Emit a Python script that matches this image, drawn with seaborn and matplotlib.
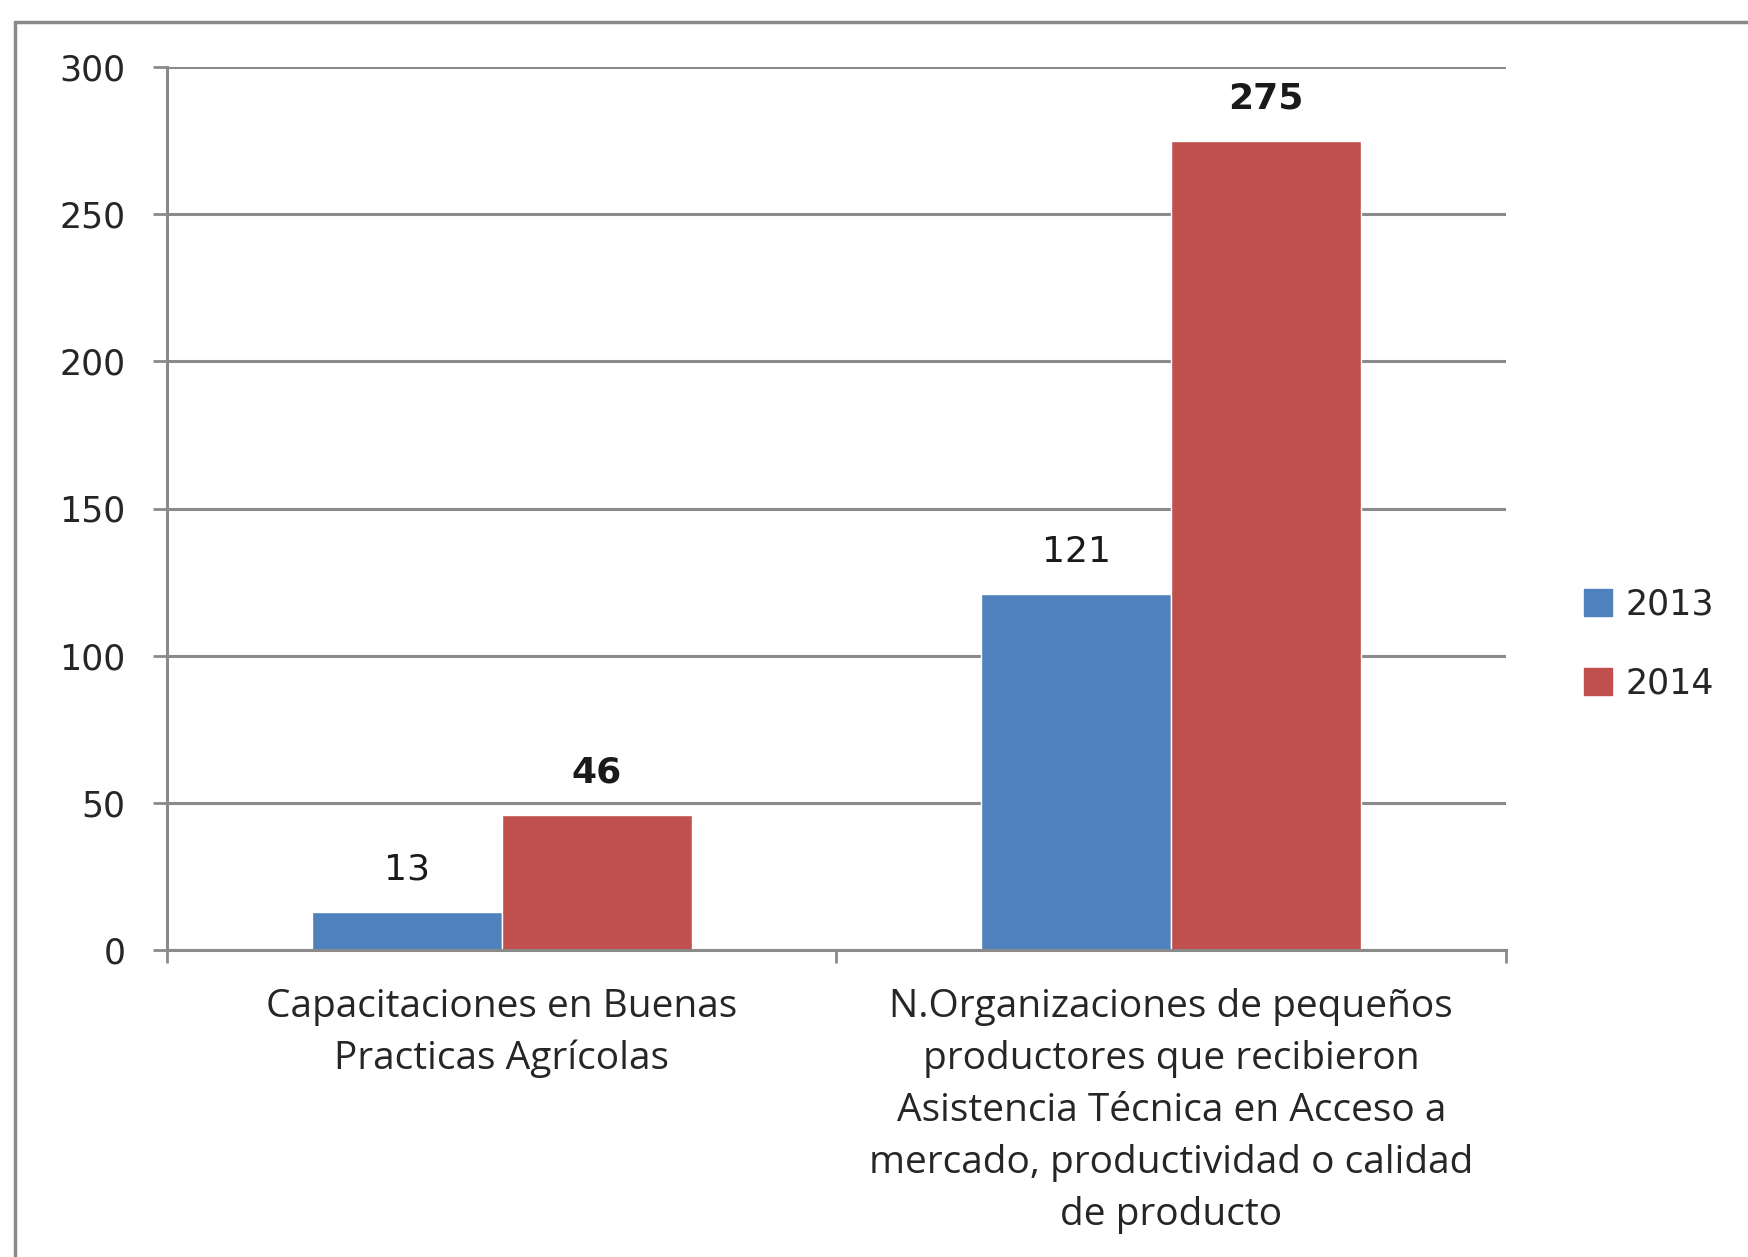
import matplotlib
matplotlib.use("Agg")
from matplotlib import pyplot as plt
from matplotlib.lines import Line2D
import pandas as pd
import seaborn as sns

categories = [
    "Capacitaciones en Buenas\nPracticas Agrícolas",
    "N.Organizaciones de pequeños\nproductores que recibieron\nAsistencia Técnica en Acceso a\nmercado, productividad o calidad\nde producto",
]
years = ["2013", "2014"]
vals_2013 = [13, 121]
vals_2014 = [46, 275]
colors = ["#4F81BD", "#C0504D"]

df = pd.DataFrame({
    "cat": categories * 2,
    "year": [years[0]] * 2 + [years[1]] * 2,
    "val": vals_2013 + vals_2014,
})

sns.set_style("white")
plt.rcParams["font.family"] = ["DejaVu Sans"]

W, H = 1749, 1257
fig = plt.figure(figsize=(W / 100, H / 100), dpi=100)
ax = fig.add_axes([167 / W, 1 - 950 / H, (1506 - 167) / W, (950 - 67) / H])

sns.barplot(data=df, x="cat", y="val", hue="year", palette=colors,
            saturation=1, width=0.567, ax=ax, legend=False, errorbar=None)

ax.set_ylim(0, 300)
ax.set_xlim(-0.5, 1.5)
ax.set_yticks(range(0, 301, 50))
ax.yaxis.grid(True, color="#8a8a8a", lw=2.2)
ax.set_axisbelow(True)
ax.set_xlabel("")
ax.set_ylabel("")

for s in ["top", "right"]:
    ax.spines[s].set_visible(False)
for s in ["left", "bottom"]:
    ax.spines[s].set_color("#8a8a8a")
    ax.spines[s].set_linewidth(2.2)

ax.tick_params(axis="y", which="major", direction="out", length=10, width=2,
               color="#8a8a8a", pad=20, labelsize=25, labelcolor="#262626")
ax.tick_params(axis="y", left=True)
ax.set_xticks([-0.5, 0.5, 1.5], minor=True)
ax.tick_params(axis="x", which="minor", direction="out", length=9, width=2,
               color="#8a8a8a", bottom=True)
ax.tick_params(axis="x", which="major", length=0, pad=27)
ax.set_xticks([0, 1])
ax.set_xticklabels(categories, fontsize=28, family="Open Sans", color="#262626",
                   linespacing=1.49)

for cont, bold in zip(ax.containers, [False, True]):
    ax.bar_label(cont, padding=18, fontsize=26, color="#1a1a1a",
                 fontweight="bold" if bold else "normal")

handles = [plt.Rectangle((0, 0), 1, 1, color=c) for c in colors]
fig.legend(handles, years, loc="center left",
           bbox_to_anchor=(1553 / W, 1 - 644 / H), frameon=False,
           fontsize=25, handlelength=0.8, handleheight=0.8,
           handletextpad=0.4, labelspacing=1.3, labelcolor="#262626")

# outer chart-area frame
fig.add_artist(Line2D([15 / W, 15 / W], [0, 1 - 22 / H], transform=fig.transFigure,
                      color="#8a8a8a", lw=2.5))
fig.add_artist(Line2D([15 / W, 1], [1 - 22 / H, 1 - 22 / H], transform=fig.transFigure,
                      color="#8a8a8a", lw=2.5))

fig.savefig("out.png", dpi=100, facecolor="white")
